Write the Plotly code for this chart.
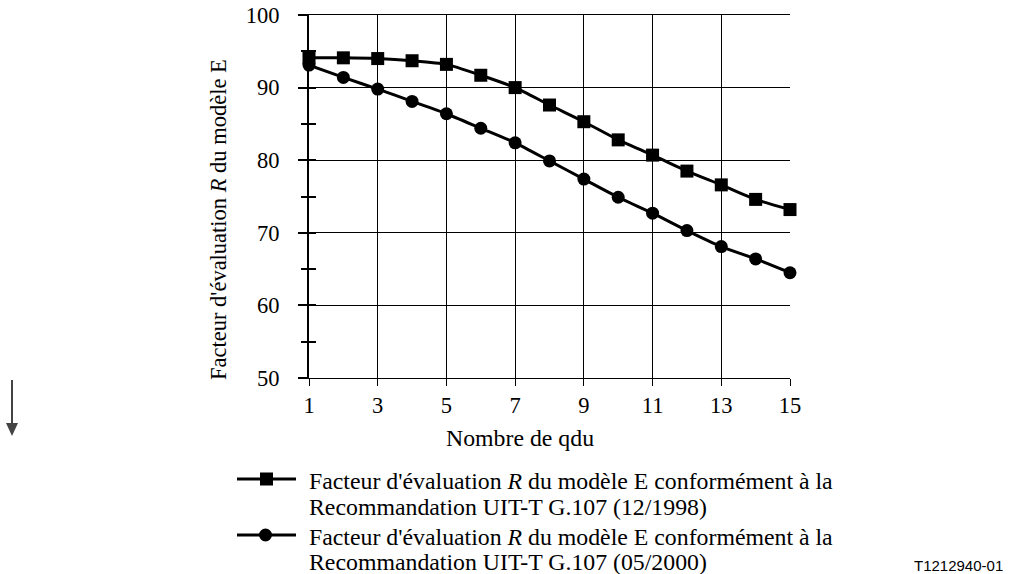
import plotly.graph_objects as go

# ---- data ----
qdu = list(range(1, 16))
r_1998 = [94.1, 94.1, 94.0, 93.7, 93.2, 91.7, 90.0, 87.6, 85.3, 82.8, 80.7, 78.5, 76.6, 74.6, 73.2]
r_2000 = [93.1, 91.4, 89.8, 88.1, 86.4, 84.4, 82.4, 79.9, 77.4, 74.9, 72.7, 70.3, 68.1, 66.4, 64.5]
x_ticks = [1, 3, 5, 7, 9, 11, 13, 15]
y_ticks = [50, 60, 70, 80, 90, 100]
y_minor = [50, 55, 60, 65, 70, 75, 80, 85, 90, 95, 100]
name_1998 = ["Facteur d'évaluation <i>R</i> du modèle E conformément à la",
             "Recommandation UIT-T G.107 (12/1998)"]
name_2000 = ["Facteur d'évaluation <i>R</i> du modèle E conformément à la",
             "Recommandation UIT-T G.107 (05/2000)"]
x_title = "Nombre de qdu"
y_title = "Facteur d'évaluation <i>R</i> du modèle E"
ref_code = "T1212940-01"

W, H = 1009, 574
L, R, T, B = 309, 790, 15, 378  # plot area in page pixels


def px(xp):
    return (xp - L) / (R - L)


def py(yp):
    return (B - yp) / (B - T)


SERIF = "Liberation Serif, Times New Roman, serif"
FS = 22.5
FL = 23.8

fig = go.Figure()
fig.add_trace(go.Scatter(
    x=qdu, y=r_1998, mode="lines+markers", cliponaxis=False,
    line=dict(color="black", width=3, shape="spline", smoothing=0.6),
    marker=dict(symbol="square", size=13, color="black"), showlegend=False))
fig.add_trace(go.Scatter(
    x=qdu, y=r_2000, mode="lines+markers", cliponaxis=False,
    line=dict(color="black", width=3, shape="spline", smoothing=0.6),
    marker=dict(symbol="circle", size=13, color="black"), showlegend=False))
fig.add_trace(go.Scatter(x=[1], y=[50], yaxis="y2", mode="markers", marker=dict(opacity=0),
                         showlegend=False, hoverinfo="skip"))

fig.update_layout(
    template="none",
    width=W, height=H,
    margin=dict(l=L, r=W - R, t=T, b=H - B, pad=0, autoexpand=False),
    paper_bgcolor="white", plot_bgcolor="white",
    font=dict(family=SERIF, size=FS, color="black"),
    xaxis=dict(range=[1, 15], tickvals=x_ticks, showgrid=True, gridcolor="black", gridwidth=1,
               showline=True, linecolor="black", linewidth=1, mirror=True, ticks="outside", ticklen=7,
               tickwidth=1, tickcolor="black", zeroline=False, ticklabelstandoff=0, automargin=False,
               ticklabeloverflow="allow", tickfont=dict(family=SERIF, size=FS)),
    yaxis=dict(range=[50, 100], tickvals=y_ticks, showgrid=True, gridcolor="black", gridwidth=1,
               showline=True, linecolor="black", linewidth=2, ticks="outside", ticklen=9, tickwidth=1.5,
               tickcolor="black", zeroline=False, ticklabelstandoff=14, automargin=False,
               ticklabeloverflow="allow",
               minor=dict(tickvals=y_minor, ticks="outside", ticklen=6, tickwidth=1.5, tickcolor="black",
                          showgrid=False),
               tickfont=dict(family=SERIF, size=FS)),
    yaxis2=dict(range=[50, 100], overlaying="y", side="left", tickvals=y_minor, ticks="inside", ticklen=7,
                tickwidth=1.5, tickcolor="black", showticklabels=False, showgrid=False, showline=False,
                zeroline=False, automargin=False),
)

annotations = [
    dict(text=x_title, x=px(520), y=py(438), xref="paper", yref="paper", showarrow=False,
         xanchor="center", yanchor="middle", font=dict(family=SERIF, size=FL)),
    dict(text=y_title, x=px(218), y=py(220), xref="paper", yref="paper", showarrow=False, textangle=-90,
         xanchor="center", yanchor="middle", font=dict(family=SERIF, size=FS)),
    dict(text=ref_code, x=px(1005), y=py(565), xref="paper", yref="paper", showarrow=False,
         xanchor="right", yanchor="middle", font=dict(family="Liberation Sans, Arial, sans-serif", size=15)),
]
for i, line in enumerate(name_1998 + name_2000):
    ys = [481, 507, 537, 562][i]
    annotations.append(dict(text=line, x=px(307), y=py(ys), xref="paper", yref="paper", showarrow=False,
                            xanchor="left", yanchor="middle", font=dict(family=SERIF, size=FL)))

shapes = [
    # legend sample 1 (square)
    dict(type="line", xref="paper", yref="paper", x0=px(237), x1=px(296), y0=py(479), y1=py(479),
         line=dict(color="black", width=3)),
    dict(type="rect", xref="paper", yref="paper", x0=px(260), x1=px(273), y0=py(472.5), y1=py(485.5),
         fillcolor="black", line=dict(width=0)),
    # legend sample 2 (circle)
    dict(type="line", xref="paper", yref="paper", x0=px(237), x1=px(296), y0=py(535), y1=py(535),
         line=dict(color="black", width=3)),
    dict(type="circle", xref="paper", yref="paper", x0=px(259), x1=px(272), y0=py(528.5), y1=py(541.5),
         fillcolor="black", line=dict(width=0)),
    # down arrow at left
    dict(type="line", xref="paper", yref="paper", x0=px(12), x1=px(12), y0=py(380), y1=py(425),
         line=dict(color="#444444", width=2)),
    dict(type="path", xref="paper", yref="paper",
         path=f"M {px(6)} {py(423)} L {px(18)} {py(423)} L {px(12)} {py(436)} Z",
         fillcolor="#444444", line=dict(width=0)),
]

fig.update_layout(annotations=annotations, shapes=shapes)
fig.write_html("out.html", config={"displayModeBar": False},
               post_script="document.body.style.margin='0px';")
